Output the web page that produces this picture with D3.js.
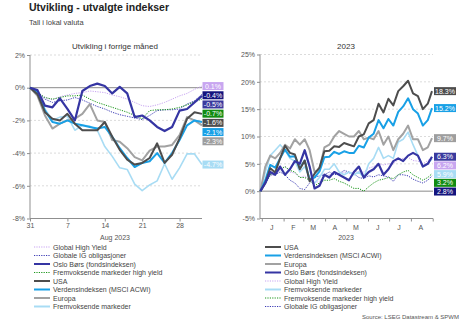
<!DOCTYPE html>
<html><head><meta charset="utf-8">
<script src="https://cdn.jsdelivr.net/npm/d3@7"></script>
<style>
body{margin:0;background:#fff}
svg{display:block}
text{font-family:"Liberation Sans",Arial,Helvetica,sans-serif}
</style>
</head><body>
<svg id="c" width="464" height="324"></svg>
<script>
// ---------- DATA ----------
const augDates = ["2023-07-31","2023-08-01","2023-08-02","2023-08-03","2023-08-04","2023-08-07","2023-08-08","2023-08-09","2023-08-10","2023-08-11","2023-08-14","2023-08-15","2023-08-16","2023-08-17","2023-08-18","2023-08-21","2023-08-22","2023-08-23","2023-08-24","2023-08-25","2023-08-28","2023-08-29","2023-08-30","2023-08-31"];
const usaM    = [0,-0.4,-1.5,-1.9,-2.0,-1.6,-2.2,-2.6,-2.6,-2.6,-2.1,-3.0,-3.8,-4.4,-4.7,-4.6,-4.3,-3.4,-4.6,-4.1,-3.1,-1.9,-1.5,-1.6];
const acwiM   = [0,-0.3,-1.4,-2.1,-2.2,-2.0,-2.2,-2.3,-2.4,-2.5,-2.4,-3.0,-3.7,-4.3,-4.85,-4.6,-4.5,-4.0,-4.6,-4.0,-3.2,-2.3,-2.0,-2.1];
const europaM = [0,-0.5,-1.7,-2.5,-2.2,-2.0,-1.9,-1.6,-1.0,-2.0,-2.1,-3.2,-3.3,-3.7,-4.25,-4.45,-3.85,-3.6,-3.6,-3.5,-2.9,-1.8,-2.0,-2.3];
const osloM   = [0,-0.15,-1.1,-1.2,-0.65,-1.3,-2.0,-0.2,0.1,0.25,0.1,-0.35,0.05,-0.35,-1.8,-1.7,-2.0,-2.4,-2.65,-2.4,-1.4,-1.3,-0.9,-0.5];
const ghyM    = [0,-0.3,-0.6,-0.75,-0.55,-0.45,-0.35,-0.3,-0.2,-0.25,-0.3,-0.45,-0.55,-0.7,-0.9,-1.1,-1.15,-1.05,-0.9,-0.7,-0.5,-0.35,-0.1,0.1];
const igM     = [0,-0.3,-0.7,-0.9,-0.8,-0.75,-0.6,-0.75,-0.95,-1.15,-1.3,-1.5,-1.65,-1.75,-1.85,-1.95,-1.7,-1.4,-1.35,-1.35,-1.3,-1.0,-0.8,-0.4];
const emhyM   = [0,-0.3,-0.6,-0.7,-0.6,-0.5,-0.5,-0.45,-0.7,-0.9,-1.05,-1.2,-1.35,-1.5,-1.7,-1.9,-1.4,-1.35,-1.35,-1.3,-1.2,-1.05,-0.85,-0.7];
const emM     = [0,-0.2,-1.3,-2.0,-1.8,-1.75,-2.6,-2.3,-2.35,-2.6,-3.6,-4.2,-4.9,-5.0,-5.9,-6.3,-5.95,-5.7,-4.65,-5.6,-4.9,-4.05,-4.05,-4.7];

const ytdDates = ["2022-12-30","2023-01-06","2023-01-13","2023-01-20","2023-01-27","2023-02-03","2023-02-10","2023-02-17","2023-02-24","2023-03-03","2023-03-10","2023-03-17","2023-03-24","2023-03-31","2023-04-07","2023-04-14","2023-04-21","2023-04-28","2023-05-05","2023-05-12","2023-05-19","2023-05-26","2023-06-02","2023-06-09","2023-06-16","2023-06-23","2023-06-30","2023-07-07","2023-07-14","2023-07-21","2023-07-28","2023-08-04","2023-08-11","2023-08-18","2023-08-25","2023-08-31"];
const usaY    = [0,1.5,4.2,3.4,6.0,8.3,7.0,6.7,4.0,5.6,1.8,3.2,4.3,7.3,7.4,8.2,8.1,8.8,8.5,8.2,10.0,10.4,12.4,13.0,16.0,14.4,16.9,15.7,18.3,19.2,20.2,17.9,17.4,15.0,16.0,18.3];
const acwiY   = [0,2.0,4.8,4.3,6.0,7.6,6.3,6.4,4.2,5.6,2.0,2.5,3.6,6.2,6.3,7.2,6.8,7.3,7.0,7.0,8.3,8.0,9.8,10.5,13.0,11.5,13.2,12.0,14.5,15.5,17.0,15.0,14.2,12.0,13.0,15.2];
const europaY = [0,4.5,6.5,6.0,7.0,8.5,7.8,9.5,8.5,9.5,7.5,3.5,4.0,8.0,8.5,10.0,11.0,10.5,10.0,10.0,11.0,9.5,9.8,9.5,11.0,8.5,10.0,7.5,9.5,10.5,12.0,9.5,9.5,7.5,8.0,9.7];
const osloY   = [0,1.5,3.5,3.0,4.5,3.0,4.0,5.5,5.0,7.5,4.5,0.5,1.0,3.0,2.5,3.5,3.0,2.5,2.0,3.5,4.5,2.5,3.5,4.0,5.0,3.0,4.0,5.5,6.0,5.5,6.5,7.0,6.5,4.5,5.0,6.3];
const ghyY    = [0,1.5,2.8,3.2,3.8,4.5,3.5,3.3,2.5,2.8,2.0,1.5,1.8,2.8,3.0,3.3,3.2,3.5,3.2,3.4,3.6,3.5,4.2,4.5,5.0,4.8,5.0,5.0,5.8,6.0,6.2,5.6,5.5,5.0,5.6,6.2];
const emY     = [0,3.5,6.5,7.5,8.5,7.5,6.0,5.5,3.5,4.5,2.5,1.5,2.5,4.0,4.0,5.0,3.5,3.0,3.5,3.0,3.5,2.5,5.0,6.0,8.0,6.0,6.5,6.0,9.0,9.5,10.8,8.5,6.5,4.5,5.0,5.9];
const emhyY   = [0,1.5,3.0,3.5,4.0,4.5,3.8,3.5,2.5,2.5,2.0,1.0,1.5,2.0,2.0,2.3,1.8,1.5,1.0,0.5,0.5,0.0,0.8,1.5,2.0,2.2,2.5,2.3,3.0,3.5,3.8,3.0,2.5,2.0,2.5,3.2];
const igY     = [0,1.5,3.0,3.0,3.5,3.0,2.0,1.5,0.5,0.3,1.5,2.5,2.8,3.0,3.5,3.0,3.2,3.8,3.5,3.2,2.5,2.3,2.8,2.6,3.0,2.8,2.6,1.8,3.0,3.0,2.8,2.2,1.8,1.5,2.0,2.8];

const leftYTicks  = [2,0,-2,-4,-6,-8];
const rightYTicks = [25,20,15,10,5,0,-5];
const monthLetters = ["J","F","M","A","M","J","J","A"];

const names = {
  usa:"USA", acwi:"Verdensindeksen (MSCI ACWI)", europa:"Europa", oslo:"Oslo Børs (fondsindeksen)",
  ghy:"Global High Yield", em:"Fremvoksende markeder", emhy:"Fremvoksende markeder high yield", ig:"Globale IG obligasjoner"
};
const leftLegendOrder  = ["ghy","ig","oslo","emhy","usa","acwi","europa","em"];
const rightLegendOrder = ["usa","acwi","europa","oslo","ghy","em","emhy","ig"];

// ---------- STYLE ----------
const style = {
  usa:   {color:"#4d4d4d", box:"#4d4d4d", w:2,   dash:null},
  acwi:  {color:"#18a0e6", box:"#18a0e6", w:2,   dash:null},
  europa:{color:"#a2a2a2", box:"#9e9e9e", w:2,   dash:null},
  oslo:  {color:"#3535a3", box:"#3a3a9e", w:2.2, dash:null},
  em:    {color:"#a8dcf4", box:"#a8dcf4", w:1.6, dash:null},
  ghy:   {color:"#c8a4f2", box:"#c8a6f0", w:1,   dash:"1.2,1.2"},
  emhy:  {color:"#1a961a", box:"#128c12", w:1,   dash:"1.2,1.2"},
  ig:    {color:"#3a3ab4", box:"#14147e", w:1,   dash:"1.2,1.2"}
};
const drawOrder = ["ghy","ig","emhy","em","europa","acwi","usa","oslo"];
const FONT = 7, AXIS_COL = "#8f8f8f", TXT = "#555";
const lastOf = a => a[a.length-1];
const fmtPct = v => (v < 0 ? "-" : "") + Math.abs(v) + "%";
const fmtLbl = v => (v < 0 ? "-" : "") + d3.format(".1f")(Math.abs(v)) + "%";

const svg = d3.select("#c");

svg.append("text").attr("x",29).attr("y",11).attr("font-size",10.5).attr("font-weight","bold")
  .attr("fill","#222").text("Utvikling - utvalgte indekser");
svg.append("text").attr("x",29).attr("y",24.5).attr("font-size",7.5).attr("fill","#444")
  .text("Tall i lokal valuta");

function panel(opt){
  const g = svg.append("g");
  const {x, y, x0, x1, yTicks} = opt;
  yTicks.forEach(t=>{
    if (t === lastOf(yTicks)) return;
    g.append("line").attr("x1",x0).attr("x2",x1).attr("y1",y(t)).attr("y2",y(t))
      .attr("stroke", t===0 ? "#8a8a8a" : "#d2d2d2")
      .attr("stroke-width", t===0 ? 1 : 0.8)
      .attr("stroke-dasharray", t===0 ? null : "2,2");
  });
  const ya = g.append("g").attr("transform",`translate(${x0},0)`)
    .call(d3.axisLeft(y).tickValues(yTicks).tickSize(3).tickPadding(2).tickFormat(fmtPct));
  ya.select(".domain").attr("stroke",AXIS_COL).attr("d",`M0,${y(yTicks[0])}V${y(lastOf(yTicks))}`);
  ya.selectAll(".tick line").attr("stroke",AXIS_COL);
  ya.selectAll("text").attr("font-size",FONT).attr("fill",TXT).attr("font-family",null);
  const yb = y(lastOf(yTicks));
  g.append("line").attr("x1",x0).attr("x2",x1).attr("y1",yb).attr("y2",yb).attr("stroke",AXIS_COL);
  opt.xAxis(g, yb);
  g.append("text").attr("x",opt.titleX).attr("y",49).attr("text-anchor","middle")
    .attr("font-size",8).attr("fill","#333").text(opt.title);
  g.append("text").attr("x",opt.titleX).attr("y",240).attr("text-anchor","middle")
    .attr("font-size",FONT).attr("fill",TXT).text(opt.xTitle);
  const line = d3.line().x((d,i)=>x(opt.dates[i])).y(d=>y(d));
  drawOrder.forEach(k=>{
    const s = style[k];
    g.append("path").datum(opt.data[k]).attr("d",line).attr("fill","none")
      .attr("stroke",s.color).attr("stroke-width",s.w)
      .attr("stroke-dasharray",s.dash).attr("stroke-linejoin","round");
  });
  const keys = Object.keys(opt.data).sort((a,b)=>lastOf(opt.data[b])-lastOf(opt.data[a]));
  let prev = -1e9;
  const bh = 8, gap = opt.gap;
  keys.forEach(k=>{
    const v = lastOf(opt.data[k]);
    let cy = Math.max(y(v), prev + gap);
    prev = cy;
    g.append("rect").attr("x",opt.lx).attr("y",cy-bh/2).attr("width",opt.lw).attr("height",bh)
      .attr("fill",style[k].box);
    g.append("text").attr("x",opt.lx+opt.lw/2).attr("y",cy+2.5).attr("text-anchor","middle")
      .attr("font-size",FONT).attr("fill","#fff").text(fmtLbl(v));
  });
  opt.legend.forEach((k,i)=>{
    const ly = 247 + i*8.5, s = style[k];
    g.append("line").attr("x1",opt.legX).attr("x2",opt.legX+16).attr("y1",ly).attr("y2",ly)
      .attr("stroke",s.color).attr("stroke-width",s.dash?1.2:2).attr("stroke-dasharray",s.dash);
    g.append("text").attr("x",opt.legX+19).attr("y",ly+2.5).attr("font-size",FONT).attr("fill","#444")
      .text(names[k]);
  });
}

const xL = d3.scalePoint().domain(augDates).range([30,202]);
const yL = d3.scaleLinear().domain([-8,2]).range([218.5,55]);
panel({
  x:xL, y:yL, x0:30, x1:202, yTicks:leftYTicks, dates:augDates,
  data:{usa:usaM,acwi:acwiM,europa:europaM,oslo:osloM,ghy:ghyM,em:emM,emhy:emhyM,ig:igM},
  title:"Utvikling i forrige måned", titleX:115, xTitle:"Aug 2023",
  lx:202.5, lw:21, gap:9.2, legend:leftLegendOrder, legX:34,
  xAxis:(g,yb)=>{
    const mondays = augDates.filter(d=>new Date(d+"T00:00:00").getDay()===1);
    const ax = g.append("g").attr("transform",`translate(0,${yb})`)
      .call(d3.axisBottom(xL).tickValues(mondays).tickSize(3).tickPadding(2).tickFormat(d=>+d.slice(8)));
    ax.select(".domain").remove();
    ax.selectAll(".tick line").attr("stroke",AXIS_COL);
    ax.selectAll("text").attr("font-size",FONT).attr("fill",TXT).attr("font-family",null);
  }
});

const parse = d3.timeParse("%Y-%m-%d");
const ytdParsed = ytdDates.map(parse);
const xR = d3.scaleTime().domain([ytdParsed[0], lastOf(ytdParsed)]).range([260.4,432]);
const yR = d3.scaleLinear().domain([-5,25]).range([218.5,54.5]);
panel({
  x:(d)=>xR(parse(d)), y:yR, x0:260, x1:433, yTicks:rightYTicks, dates:ytdDates,
  data:{usa:usaY,acwi:acwiY,europa:europaY,oslo:osloY,ghy:ghyY,em:emY,emhy:emhyY,ig:igY},
  title:"2023", titleX:346, xTitle:"2023",
  lx:434, lw:22, gap:8.7, legend:rightLegendOrder, legX:265,
  xAxis:(g,yb)=>{
    const starts = d3.timeMonth.range(new Date(2023,0,1), new Date(2023,8,2));
    const ax = g.append("g").attr("transform",`translate(0,${yb})`)
      .call(d3.axisBottom(xR).tickValues(starts).tickSize(3).tickFormat(""));
    ax.select(".domain").remove();
    ax.selectAll(".tick line").attr("stroke",AXIS_COL);
    monthLetters.forEach((m,i)=>{
      const mid = new Date(2023,i,15);
      g.append("text").attr("x",xR(mid)).attr("y",yb+11).attr("text-anchor","middle")
        .attr("font-size",FONT).attr("fill",TXT).text(m);
    });
  }
});

svg.append("text").attr("x",459).attr("y",319).attr("text-anchor","end")
  .attr("font-size",6).attr("fill","#555").text("Source: LSEG Datastream & SPWM");
</script>
</body></html>
